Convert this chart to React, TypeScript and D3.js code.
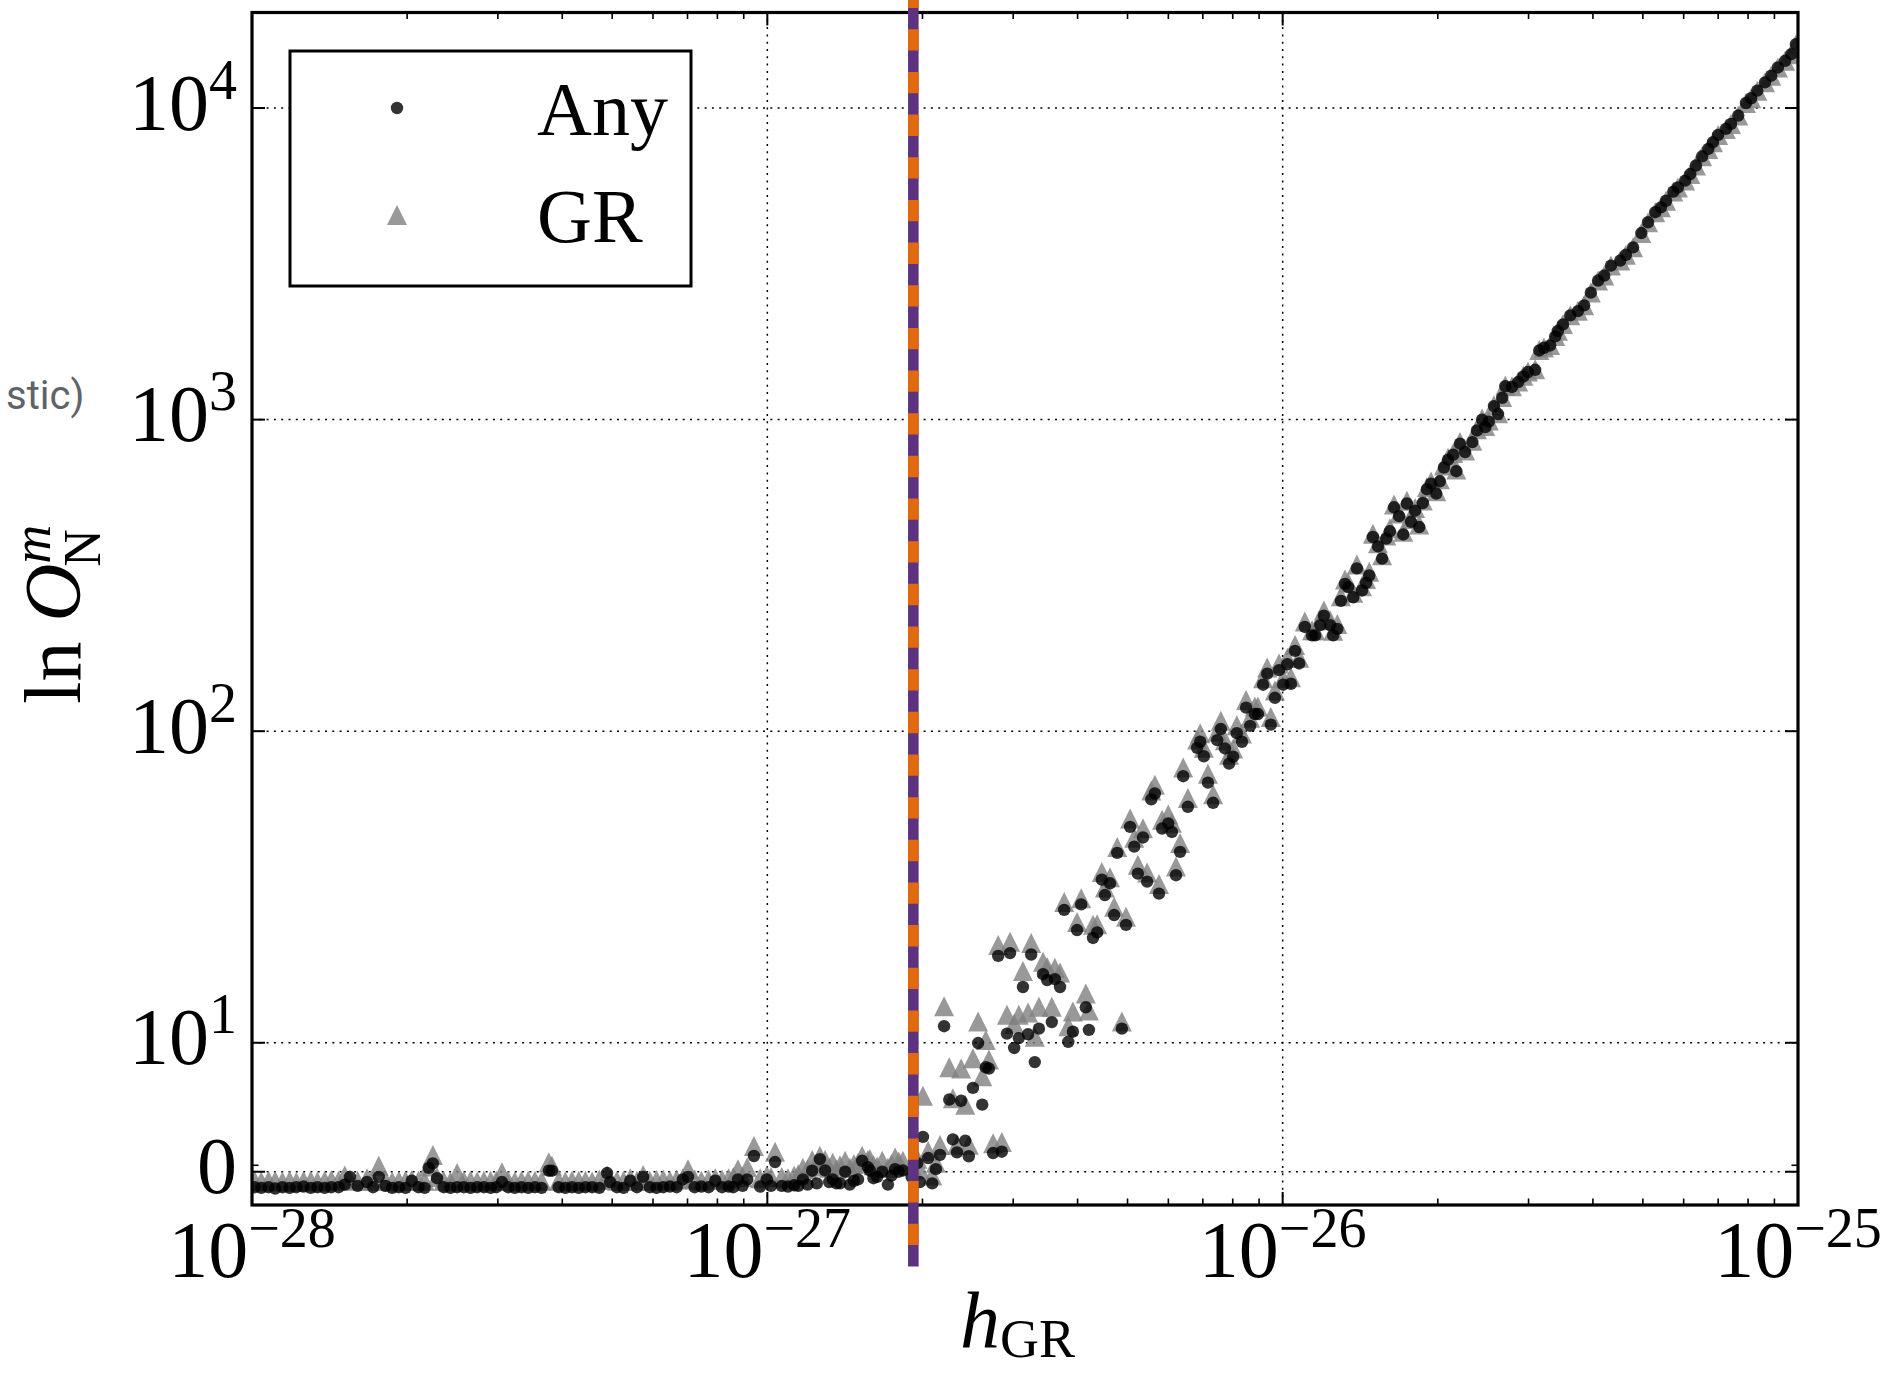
import React from "react";
import * as d3 from "d3";

// Rows: [log10 h_GR, ln O (Any), ln O (GR)]
const baselinePoints: [number, number, number][] = [
  [-27.995, -1.2, -0.7], [-27.982, -1.25, -0.75], [-27.968, -1.2, -0.7], [-27.955, -1.3, -0.7],
  [-27.941, -1.2, -0.75], [-27.927, -1.25, -0.7], [-27.914, -1.2, -0.8], [-27.9, -1.15, -0.7],
  [-27.886, -1.25, -0.7], [-27.873, -1.2, -0.75], [-27.859, -1.25, -0.7], [-27.846, -1.2, -0.65],
  [-27.832, -1.2, -0.7], [-27.82, -1.0, -0.3], [-27.81, -0.4, -0.6], [-27.795, -1.1, -0.7],
  [-27.777, -0.8, -0.5], [-27.765, -1.2, -0.7], [-27.754, -0.4, 0.47], [-27.741, -1.1, -0.7],
  [-27.728, -1.25, -0.75], [-27.715, -1.2, -0.7], [-27.702, -1.25, -0.7], [-27.69, -0.7, -0.65],
  [-27.677, -1.2, -0.7], [-27.665, -1.25, -0.7], [-27.657, 0.3, 0.4], [-27.649, 0.65, 1.3],
  [-27.641, -0.5, -0.4], [-27.628, -1.2, -0.7], [-27.615, -1.25, -0.75], [-27.602, -1.2, -0.1],
  [-27.589, -1.2, -0.7], [-27.576, -1.25, -0.7], [-27.563, -1.2, -0.75], [-27.55, -1.2, -0.7],
  [-27.537, -1.25, -0.7], [-27.526, -1.2, -0.7], [-27.515, -0.8, -0.05], [-27.503, -1.2, -0.7],
  [-27.49, -1.25, -0.75], [-27.477, -1.2, -0.7], [-27.464, -1.25, -0.7], [-27.451, -1.2, -0.7],
  [-27.438, -1.25, -0.7], [-27.424, 0.08, 0.73], [-27.418, 0.08, 0.47], [-27.405, -1.2, -0.7],
  [-27.392, -1.25, -0.75], [-27.379, -1.2, -0.7], [-27.366, -1.25, -0.7], [-27.353, -1.2, -0.7],
  [-27.34, -1.2, -0.75], [-27.326, -1.25, -0.6], [-27.311, -0.1, -0.3], [-27.305, -0.8, -0.6],
  [-27.292, -1.2, -0.7], [-27.279, -1.25, -0.7], [-27.266, -0.7, -0.5], [-27.253, -1.2, -0.7],
  [-27.241, -0.4, -0.26], [-27.228, -1.2, -0.7], [-27.215, -1.25, -0.65], [-27.202, -1.2, -0.6],
  [-27.189, -1.15, -0.7], [-27.176, -1.2, -0.6], [-27.164, -0.6, -0.5], [-27.154, -0.4, 0.2],
  [-27.141, -1.2, -0.6], [-27.128, -1.15, -0.7], [-27.114, -1.2, -0.6], [-27.101, -0.7, -0.5],
  [-27.088, -1.2, -0.6], [-27.075, -1.15, -0.5], [-27.066, -1.2, -0.4], [-27.057, -0.6, 0.2],
  [-27.048, -1.1, -0.4], [-27.039, -0.6, 0.34], [-27.026, 1.22, 2.0], [-27.014, -1.15, -0.5],
  [-27.001, -0.6, -0.3], [-26.993, -1.1, -0.4], [-26.985, 0.75, 1.55], [-26.972, -1.1, -0.4],
  [-26.96, -1.15, -0.5], [-26.948, -1.05, -0.3], [-26.94, -1.1, -0.2], [-26.931, -0.6, 0.3],
  [-26.922, -1.0, 0.2], [-26.913, 0.08, 0.9], [-26.904, -0.9, 0.4], [-26.898, 0.98, 1.24],
  [-26.888, 0.1, 0.9], [-26.88, -0.8, 0.3], [-26.873, -0.6, 0.7], [-26.866, -0.9, 0.2],
  [-26.859, -0.9, 0.5], [-26.849, 0.0, 0.85], [-26.84, -1.0, 0.3], [-26.832, -0.7, 0.6],
  [-26.824, -0.6, 0.7], [-26.816, 0.85, 1.24], [-26.805, 0.36, 0.9], [-26.801, 0.1, 0.98],
  [-26.794, -0.5, 0.5], [-26.787, -0.4, 0.4], [-26.777, 0.0, 0.85], [-26.766, -1.0, 0.3],
  [-26.759, -0.3, 0.6], [-26.752, 0.2, 1.1], [-26.745, 0.0, 0.8], [-26.737, 0.1, 0.85],
  [-26.72, -0.4, 0.5], [-26.709, 0.67, 1.0], [-26.704, -0.8, 0.2],
];

const risePoints: [number, number, number][] = [
  [-26.698, 2.7, 5.9], [-26.688, 1.06, 1.6], [-26.68, -0.9, -0.3], [-26.673, 0.2, 0.7],
  [-26.665, 1.3, 2.07], [-26.657, 11.3, 13.1], [-26.647, 5.6, 8.1], [-26.64, 2.5, 5.7],
  [-26.632, 1.5, 2.1], [-26.624, 5.5, 8.0], [-26.616, 2.4, 5.2], [-26.609, 1.2, 2.1],
  [-26.601, 6.5, 8.8], [-26.591, 9.98, 11.7], [-26.583, 5.2, 7.4], [-26.576, 8.1, 10.2],
  [-26.57, 8.0, 8.7], [-26.562, 1.45, 2.2], [-26.552, 19.0, 20.6], [-26.545, 1.55, 2.3],
  [-26.535, 10.7, 12.3], [-26.529, 19.4, 21.1], [-26.521, 9.6, 11.5], [-26.512, 10.35, 12.3],
  [-26.504, 15.1, 17.0], [-26.494, 10.65, 12.5], [-26.488, 19.2, 20.9], [-26.481, 8.5, 10.45],
  [-26.473, 11.1, 13.05], [-26.465, 16.6, 18.2], [-26.457, 15.9, 17.5], [-26.448, 11.65, 13.05],
  [-26.442, 16.0, 17.4], [-26.432, 15.1, 16.8], [-26.424, 26.7, 28.3], [-26.416, 10.07, 11.3],
  [-26.407, 10.85, 12.6], [-26.399, 23.0, 24.4], [-26.391, 27.8, 29.1], [-26.382, 13.0, 14.4],
  [-26.376, 11.0, 12.7], [-26.368, 21.7, 23.9], [-26.36, 22.6, 24.0], [-26.351, 33.4, 35.3],
  [-26.345, 29.8, 31.5], [-26.335, 32.5, 34.0], [-26.327, 25.7, 27.3], [-26.321, 40.7, 42.5],
  [-26.312, 11.1, 11.7], [-26.304, 23.9, 25.4],
];

const powerLawPoints: [number, number, number][] = [
  [-26.296, 49.3, 52.5], [-26.288, 42.6, 45.5], [-26.281, 34.9, 37.3], [-26.271, 45.6, 48.8],
  [-26.263, 32.9, 35.2], [-26.255, 60.4, 64.5], [-26.248, 63.1, 67.3], [-26.24, 30.1, 32.3],
  [-26.234, 48.7, 52], [-26.222, 50.6, 54], [-26.215, 47.5, 50.8], [-26.207, 34.5, 36.8],
  [-26.199, 41, 43.8], [-26.193, 71.7, 76.5], [-26.184, 57.2, 61], [-26.166, 88.4, 94],
  [-26.16, 92.5, 98.5], [-26.153, 83.1, 88.5], [-26.145, 68.4, 73], [-26.135, 58.9, 62.8],
  [-26.127, 93.6, 99.5], [-26.12, 101.6, 108], [-26.112, 88, 93.5], [-26.104, 78.7, 84],
  [-26.096, 82.8, 88], [-26.089, 98.5, 104.5], [-26.079, 92.5, 98.3], [-26.071, 119, 126],
  [-26.063, 104, 110.5], [-26.054, 113.5, 120], [-26.048, 113.5, 120], [-26.038, 141, 148],
  [-26.03, 153, 160], [-26.023, 105, 111], [-26.015, 128, 135], [-26.007, 157, 165],
  [-25.999, 141, 148], [-25.991, 164, 172], [-25.984, 142, 149], [-25.976, 181, 189],
  [-25.968, 165, 172], [-25.957, 216, 225], [-25.943, 203, 211], [-25.937, 203, 211],
  [-25.927, 219, 228], [-25.92, 235, 244], [-25.908, 219, 227], [-25.902, 203, 210],
  [-25.894, 213, 221], [-25.887, 262, 271], [-25.879, 297, 307], [-25.873, 290, 300],
  [-25.863, 269, 278], [-25.856, 333, 343], [-25.846, 283, 292], [-25.838, 299, 308],
  [-25.832, 316, 325], [-25.825, 420, 430], [-25.815, 392, 401], [-25.807, 358, 367],
  [-25.799, 415, 425], [-25.792, 438, 448], [-25.784, 523, 534], [-25.774, 490, 500],
  [-25.766, 428, 437], [-25.759, 538, 549], [-25.751, 470, 480], [-25.743, 510, 520],
  [-25.735, 452, 461], [-25.728, 540, 550], [-25.72, 598, 608], [-25.712, 623, 633],
  [-25.702, 579, 589], [-25.695, 634, 644], [-25.687, 702, 712], [-25.679, 744, 754],
  [-25.669, 772, 782], [-25.663, 683, 692], [-25.656, 837, 847], [-25.646, 787, 796],
  [-25.632, 847, 856], [-25.623, 923, 932], [-25.613, 1000, 1008], [-25.607, 946, 954],
  [-25.6, 985, 993], [-25.59, 1105, 1112], [-25.582, 1042, 1049], [-25.574, 1175, 1182],
  [-25.568, 1280, 1287], [-25.555, 1273, 1280], [-25.543, 1320, 1326], [-25.533, 1376, 1382],
  [-25.524, 1421, 1427], [-25.51, 1445, 1450], [-25.502, 1667, 1672], [-25.493, 1700, 1705],
  [-25.481, 1730, 1735], [-25.471, 1850, 1855], [-25.466, 1925, 1930], [-25.456, 2022, 2026],
  [-25.442, 2160, 2164], [-25.427, 2230, 2234], [-25.415, 2327, 2330], [-25.402, 2556, 2560],
  [-25.388, 2795, 2798], [-25.376, 2900, 2903], [-25.363, 3120, 3123], [-25.345, 3240, 3243],
  [-25.334, 3380, 3383], [-25.32, 3570, 3572], [-25.304, 3970, 3972], [-25.291, 4300, 4302],
  [-25.277, 4630, 4632], [-25.266, 4800, 4802], [-25.256, 5040, 5042], [-25.242, 5390, 5392],
  [-25.233, 5560, 5562], [-25.219, 5850, 5852], [-25.209, 6140, 6140], [-25.198, 6540, 6540],
  [-25.186, 7000, 7000], [-25.174, 7390, 7390], [-25.165, 7770, 7770], [-25.155, 8200, 8200],
  [-25.14, 8570, 8570], [-25.13, 8890, 8890], [-25.116, 9460, 9460], [-25.101, 10380, 10380],
  [-25.091, 10750, 10750], [-25.079, 11370, 11370], [-25.064, 12090, 12090], [-25.052, 12700, 12700],
  [-25.039, 13500, 13500], [-25.025, 14180, 14180], [-25.013, 14890, 14890], [-25.004, 16030, 16030],
];

const xDomain = [1e-28, 1e-25];
const yDomain = [-2.58, 20260];
const xMajorExps = [-28, -27, -26, -25];
const xGridExps = [-27, -26];
const yMajorVals = [0, 10, 100, 1000, 10000];
const yTickLabels = [
  { base: "0", sup: "" },
  { base: "10", sup: "1" },
  { base: "10", sup: "2" },
  { base: "10", sup: "3" },
  { base: "10", sup: "4" },
];
const yMinorVals = [0.5];
const thresholdH = 1.92e-27;
const legendLabels = ["Any", "GR"];

const SERIF = "'Liberation Serif', 'DejaVu Serif', serif";

export default function App() {
  const left = 252, right = 1798, top = 12.5, bottom = 1205;
  const x = d3.scaleLog().domain(xDomain).range([left, right]);
  const linDecades = 0.4139;
  const tf = (v: number) => (v <= 10 ? (v / 10) * linDecades : linDecades + Math.log10(v / 10));
  const yLin = d3.scaleLinear().domain([tf(yDomain[0]), tf(yDomain[1])]).range([bottom, top]);
  const y = (v: number) => yLin(tf(v));

  const all = [...baselinePoints, ...risePoints, ...powerLawPoints];
  const xMinor = x.ticks().filter((t) => Math.abs(Math.log10(t) - Math.round(Math.log10(t))) > 1e-6);

  const triS = 20;
  const dotR = 6.2;
  const tri = (cx: number, cy: number, s: number) =>
    `M${cx},${cy - s / 2}L${cx - s / 2},${cy + s / 2}L${cx + s / 2},${cy + s / 2}Z`;

  const majLen = 13, minLen = 6.5;
  const gridDash = "2 5.3";
  const vx = x(thresholdH);
  const vTop = y(yDomain[1]) - 25.9;
  const vBottom = bottom + 61.6;

  return (
    <svg
      width={1893}
      height={1373}
      style={{ position: "absolute", left: 0, top: 0, background: "#fff" }}
    >
      <defs>
        <clipPath id="plotclip">
          <rect x={left} y={top} width={right - left} height={bottom - top} />
        </clipPath>
      </defs>
      <rect x={0} y={0} width={1893} height={1373} fill="#fff" />

      {/* grid */}
      {xGridExps.map((e) => (
        <line key={"gx" + e} x1={x(Math.pow(10, e))} x2={x(Math.pow(10, e))} y1={top} y2={bottom}
          stroke="#000" strokeWidth={1.5} strokeDasharray={gridDash} />
      ))}
      {yMajorVals.map((v) => (
        <line key={"gy" + v} x1={left} x2={right} y1={y(v)} y2={y(v)}
          stroke="#000" strokeWidth={1.5} strokeDasharray={gridDash} />
      ))}

      {/* points */}
      <g clipPath="url(#plotclip)">
        {all.map((p, i) => (
          <path key={"g" + i} d={tri(x(Math.pow(10, p[0])), y(p[2]), triS)} fill="#808080" fillOpacity={0.8} />
        ))}
        {all.map((p, i) => (
          <circle key={"a" + i} cx={x(Math.pow(10, p[0]))} cy={y(p[1])} r={dotR} fill="#000" fillOpacity={0.8} />
        ))}
      </g>

      {/* frame */}
      <rect x={left} y={top} width={right - left} height={bottom - top} fill="none" stroke="#000" strokeWidth={3.2} />

      {/* x ticks */}
      {xMajorExps.map((e) => {
        const xx = x(Math.pow(10, e));
        return (
          <g key={"xt" + e}>
            <line x1={xx} x2={xx} y1={bottom} y2={bottom - majLen} stroke="#000" strokeWidth={2} />
            <line x1={xx} x2={xx} y1={top} y2={top + majLen} stroke="#000" strokeWidth={2} />
            <text x={xx} y={1277} textAnchor="middle" fontFamily={SERIF} fontSize={80} fill="#000">
              10<tspan dy={-30} fontSize={56}>{"\u2212" + Math.abs(e)}</tspan>
            </text>
          </g>
        );
      })}
      {xMinor.map((t, i) => {
        const xx = x(t);
        return (
          <g key={"xm" + i}>
            <line x1={xx} x2={xx} y1={bottom} y2={bottom - minLen} stroke="#000" strokeWidth={1.6} />
            <line x1={xx} x2={xx} y1={top} y2={top + minLen} stroke="#000" strokeWidth={1.6} />
          </g>
        );
      })}

      {/* y ticks */}
      {yMajorVals.map((v, i) => {
        const yy = y(v);
        const lab = yTickLabels[i];
        return (
          <g key={"yt" + v}>
            <line x1={left} x2={left + majLen} y1={yy} y2={yy} stroke="#000" strokeWidth={2} />
            <line x1={right} x2={right - majLen} y1={yy} y2={yy} stroke="#000" strokeWidth={2} />
            <text x={237} y={yy + 21.5} textAnchor="end" fontFamily={SERIF} fontSize={80} fill="#000">
              {lab.base}
              {lab.sup ? <tspan dy={-31} fontSize={56}>{lab.sup}</tspan> : null}
            </text>
          </g>
        );
      })}
      {yMinorVals.map((v) => (
        <g key={"ym" + v}>
          <line x1={left} x2={left + minLen} y1={y(v)} y2={y(v)} stroke="#000" strokeWidth={1.6} />
          <line x1={right} x2={right - minLen} y1={y(v)} y2={y(v)} stroke="#000" strokeWidth={1.6} />
        </g>
      ))}

      {/* axis labels */}
      <text x={960} y={1347} fontFamily={SERIF} fontSize={80} fill="#000">
        <tspan fontStyle="italic">h</tspan>
        <tspan dy={10} fontSize={54}>GR</tspan>
      </text>
      <g transform={`translate(80, ${(top + bottom) / 2}) rotate(-90)`}>
        <text x={-95} y={0} fontFamily={SERIF} fontSize={80} fill="#000">
          ln
          <tspan dx={20} fontStyle="italic">O</tspan>
          <tspan dy={-30} fontSize={54} fontStyle="italic">m</tspan>
          <tspan dx={-42} dy={50} fontSize={52}>N</tspan>
        </text>
      </g>

      {/* stray caption fragment */}
      <text x={6} y={409} fontFamily="Roboto, 'Noto Sans', sans-serif" fontSize={40} fill="#5f6368">stic)</text>

      {/* legend */}
      <rect x={290} y={51} width={401} height={235} fill="#fff" stroke="#000" strokeWidth={3} />
      <circle cx={397} cy={108} r={dotR} fill="#000" fillOpacity={0.8} />
      <path d={tri(397, 215, triS)} fill="#808080" fillOpacity={0.8} />
      <text x={537} y={135} fontFamily={SERIF} fontSize={76} fill="#000">{legendLabels[0]}</text>
      <text x={537} y={242} fontFamily={SERIF} fontSize={76} fill="#000">{legendLabels[1]}</text>

      {/* threshold line */}
      <line x1={vx} x2={vx} y1={vTop} y2={vBottom} stroke="#5d3381" strokeWidth={10.6} />
      <line x1={vx} x2={vx} y1={vTop} y2={vBottom} stroke="#e26a0e" strokeWidth={10.6}
        strokeDasharray="21.33 21.33" />
    </svg>
  );
}
